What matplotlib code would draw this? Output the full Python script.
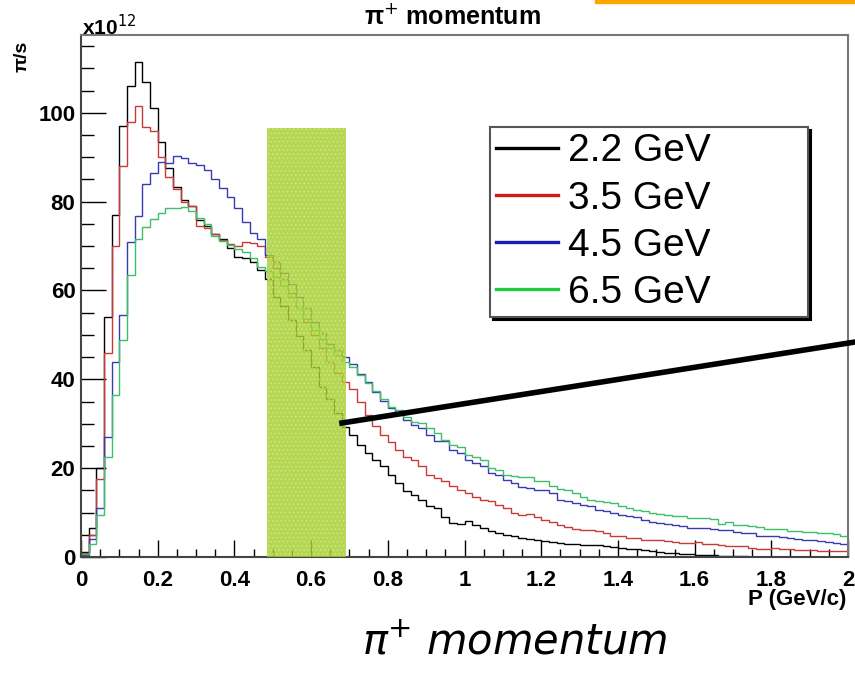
import numpy as np
import matplotlib
matplotlib.use("Agg")
import matplotlib.pyplot as plt
from matplotlib.patches import Rectangle
from matplotlib.lines import Line2D

plt.rcParams['font.family'] = ['Liberation Sans', 'DejaVu Sans']
plt.rcParams['hatch.linewidth'] = 0.6

# momentum bins, 0.02 GeV/c wide, 0..2 GeV/c
bin_width = 0.02
n_bins = 100

# pi+ rate, units of 1e12 pi/s
p22 = [1.2, 6.5, 20, 54, 77, 97, 106, 111.5, 107, 101,
       93.5, 87.5, 83.3, 80.3, 79, 75.8, 74.6, 72.6, 71.5, 69.6,
       67.5, 67.3, 66.5, 64.5, 62.6, 58.6, 56.6, 53.3, 49.7, 46.5,
       42.8, 38.3, 35.5, 32.5, 29.3, 27.5, 25.2, 23.4, 21.9, 20.4,
       18.5, 16.6, 14.8, 14, 12.9, 11.4, 11, 9.1, 7.7, 7.5,
       8.2, 7.3, 6.5, 5.8, 5.4, 5, 4.7, 4.3, 4.0, 3.8,
       3.5, 3.3, 3.1, 3.0, 2.9, 2.8, 2.7, 2.6, 2.4, 2.2,
       2.0, 1.9, 1.7, 1.5, 1.3, 1.1, 1.0, 0.9, 0.7, 0.6,
       0.5, 0.4, 0.35, 0.3, 0.25, 0.2, 0.15, 0.1, 0.05, 0,
       0, 0, 0, 0, 0, 0, 0, 0, 0, 0]
p35 = [1.0, 5, 17.5, 46, 70, 88, 98, 101.5, 96.8, 95.8,
       90, 85.6, 82.8, 80, 79, 74.6, 74, 72.7, 71.4, 70.5,
       70, 70.8, 70.6, 70, 67.5, 65, 62.5, 59.5, 56, 53,
       50, 47, 44, 41.5, 39.5, 37.9, 35, 32, 29.5, 27.5,
       25.8, 24.1, 22.6, 21.9, 20.4, 18.5, 17.8, 17, 15.9, 15,
       14.4, 13.6, 12.9, 12.5, 11.8, 11, 9.9, 9.5, 9.6, 9,
       8.4, 7.8, 7.3, 6.8, 6.3, 6, 6, 5.8, 5.3, 4.8,
       4.7, 4.3, 4.3, 3.9, 3.8, 3.8, 3.5, 3.3, 3.2, 3.2,
       3.3, 3.0, 2.9, 2.6, 2.5, 2.5, 2.5, 2.1, 1.8, 1.8,
       2.1, 1.7, 1.7, 1.5, 1.5, 1.5, 1.3, 1.4, 1.3, 1.3]
p45 = [0.5, 4, 11, 27, 44, 54.5, 70.8, 76.8, 84, 86.5,
       89, 88.7, 90.3, 89.8, 88.7, 88.3, 87, 85, 83, 81,
       78.5, 75.5, 73, 71.6, 68, 66.5, 64, 61.5, 58.5, 56,
       53, 50.5, 48, 46.5, 45, 43.5, 41.3, 39.3, 37.2, 35.2,
       33.6, 32.2, 30.8, 29.7, 29, 27.5, 26, 26, 24.1, 23.4,
       21.9, 21.1, 20.4, 18.9, 18.5, 17.4, 16.6, 15.8, 15.5, 15.1,
       15.1, 14.4, 12.9, 12.7, 12.1, 11.8, 11.4, 10.6, 10.3, 9.9,
       9.5, 9.2, 9, 8.4, 7.8, 7.7, 7.5, 7.3, 6.9, 6.5,
       6.5, 6.6, 6.2, 6.0, 6.0, 5.6, 5.3, 5.3, 4.8, 4.7,
       4.7, 4.5, 4.3, 4.1, 3.9, 3.8, 3.5, 3.3, 3.2, 3.0]
p65 = [0.6, 3, 9.5, 22.5, 36.4, 48.8, 63.5, 71.6, 74.2, 76,
       77.5, 78.5, 78.6, 78.8, 77.8, 76.4, 74.9, 72.3, 71.2, 70.3,
       69.3, 68.6, 67.4, 65.2, 64.3, 63, 61, 58.5, 56, 53.5,
       51, 49, 47, 45.5, 44, 42.8, 41, 39.2, 37.4, 35.5,
       33.8, 33.1, 31.6, 30.4, 30.1, 29, 27.8, 26.3, 25.2, 24.7,
       23, 22.6, 21.9, 20, 19.6, 18.5, 18.2, 18.1, 18.1, 17.2,
       17, 16, 15.3, 15.1, 14.5, 13.6, 12.9, 12.7, 12.3, 12.1,
       11.5, 11, 10.6, 10.3, 10, 9.7, 9.5, 9.3, 9.2, 8.8,
       8.7, 8.7, 8.6, 7.5, 7.8, 7.3, 7.1, 6.9, 6.7, 6.3,
       6.3, 6.2, 5.8, 5.8, 5.6, 5.6, 5.3, 5.3, 5.1, 4.8]

labels = ['2.2 GeV', '3.5 GeV', '4.5 GeV', '6.5 GeV']
colors = ['#000000', '#c83a3a', '#3a3ab0', '#3cc06a']
legend_colors = ['#000000', '#d01c1c', '#1c1cb4', '#1ccc3c']

# selected momentum window
band_lo, band_hi, band_top = 0.485, 0.691, 96.6

edges = np.arange(n_bins + 1) * bin_width

fig = plt.figure(figsize=(8.55, 6.73), dpi=100)
ax = fig.add_axes([81/855, 1-557/673, 767/855, 522/673])

for vals, c in zip([p22, p35, p45, p65], colors):
    ax.stairs(vals, edges, baseline=0, color=c, lw=1.0, zorder=2)

ax.add_patch(Rectangle((band_lo, 0), band_hi-band_lo, band_top,
                       facecolor='#a6cf2e', edgecolor='#d4ea90', hatch='....',
                       lw=0, alpha=0.82, zorder=3))

ax.set_xlim(0, 2)
ax.set_ylim(0, 117.5)
ax.set_xticks(np.arange(0, 2.01, 0.2))
ax.set_xticklabels(['0', '0.2', '0.4', '0.6', '0.8', '1', '1.2', '1.4', '1.6', '1.8', '2'])
ax.set_xticks(np.arange(0, 2.001, 0.05), minor=True)
ax.set_yticks(np.arange(0, 101, 20))
ax.set_yticks(np.arange(0, 117, 5), minor=True)
ax.tick_params(axis='x', which='major', direction='in', length=12, width=1, pad=9,
               labelsize=16, top=False)
ax.tick_params(axis='x', which='minor', direction='in', length=6, width=1, top=False)
ax.tick_params(axis='y', which='major', direction='in', length=18, width=1, pad=4,
               labelsize=16, right=False)
ax.tick_params(axis='y', which='minor', direction='in', length=9, width=1, right=False)
for lab in ax.get_xticklabels() + ax.get_yticklabels():
    lab.set_fontweight('bold')
for s in ['left', 'bottom']:
    ax.spines[s].set_color('#444444')
    ax.spines[s].set_linewidth(1.5)
for s in ['top', 'right']:
    ax.spines[s].set_color('#777777')
    ax.spines[s].set_linewidth(1.5)

handles = [Line2D([], [], color=c, lw=2.4) for c in legend_colors]
leg = fig.legend(handles, labels, loc='upper left', mode='expand',
                 bbox_to_anchor=(490/855, 1-317/673, 318/855, 190/673),
                 fontsize=28, frameon=True, fancybox=False,
                 shadow={'color': 'black', 'alpha': 1, 'ox': 2, 'oy': -2},
                 handlelength=1.6, handletextpad=0.25, labelspacing=0.29,
                 borderpad=0.16, borderaxespad=0)
leg.get_frame().set_edgecolor('#555555')
leg.get_frame().set_linewidth(1.5)
leg.set_zorder(5)

fig.text(452/855, 1-17/673, '\u03c0$^{+}$ momentum', ha='center', va='center',
         fontsize=18, fontweight='bold')
fig.text(82/855, 1-27/673, 'x10$^{12}$', ha='left', va='center',
         fontsize=15, fontweight='bold')
fig.text(22/855, 1-56/673, '\u03c0/s', ha='center', va='center', rotation=90,
         fontsize=14, fontweight='bold')
fig.text(846/855, 1-600/673, 'P (GeV/c)', ha='right', va='center',
         fontsize=16, fontweight='bold')

# pointer line and header bar
fig.add_artist(Line2D([342/855, 1.0], [1-423/673, 1-342/673], color='black',
                      lw=4, transform=fig.transFigure, zorder=6))
fig.add_artist(Rectangle((595/855, 1-3/673), 260/855, 3/673, color='#ffa500',
                         transform=fig.transFigure, zorder=6))

fig.text(515/855, 1-641/673, '\u03c0$^{+}$ momentum', ha='center', va='center',
         fontsize=30, style='italic', family='DejaVu Sans')

fig.savefig('out.png', dpi=100)
